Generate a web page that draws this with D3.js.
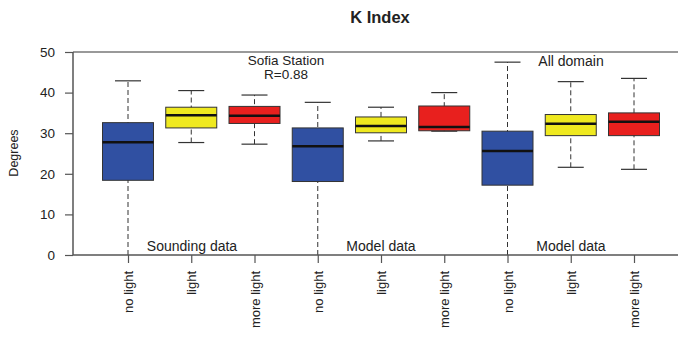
<!DOCTYPE html>
<html lang="en">
<head>
  <meta charset="UTF-8">
  <title>K Index</title>
  <script src="https://d3js.org/d3.v7.min.js"></script>
  <style>
    body { margin: 0; background: #fff; }
    text { font-family: "Liberation Sans", Arial, sans-serif; }
  </style>
</head>
<body>
  <script>
    // categories, one box per position
    const categories = ["no light", "light", "more light",
                        "no light", "light", "more light",
                        "no light", "light", "more light"];
    const boxColors = ["#3050a2", "#efe91f", "#e8201e",
                       "#3050a2", "#efe91f", "#e8201e",
                       "#3050a2", "#efe91f", "#e8201e"];
    // five number summaries
    const whiskerLow = [0, 27.7, 27.3, 0, 28.1, 30.5, 0, 21.6, 21.1];
    const q1 = [18.4, 31.3, 32.4, 18.1, 30.1, 30.6, 17.2, 29.4, 29.4];
    const medians = [27.8, 34.4, 34.3, 26.8, 31.8, 31.5, 25.6, 32.3, 32.8];
    const q3 = [32.6, 36.4, 36.6, 31.3, 34.0, 36.7, 30.5, 34.6, 35.0];
    const whiskerHigh = [42.9, 40.5, 39.4, 37.6, 36.4, 40.0, 47.5, 42.7, 43.5];
    const yTicks = [0, 10, 20, 30, 40, 50];

    const width = 678, height = 339;
    const svg = d3.select("body").append("svg")
      .attr("width", width)
      .attr("height", height);

    // scales
    const x = d3.scaleLinear().domain([0, 8]).range([128, 634]);
    const y = d3.scaleLinear().domain([0, 50]).range([255, 52]);
    const boxW = 51;

    const data = categories.map((c, i) => ({
      i: i, name: c, color: boxColors[i],
      lo: whiskerLow[i], q1: q1[i], med: medians[i], q3: q3[i], hi: whiskerHigh[i]
    }));

    // top frame line
    svg.append("line")
      .attr("x1", 73).attr("x2", width)
      .attr("y1", y(50)).attr("y2", y(50))
      .attr("stroke", "#777").attr("stroke-width", 1.5);

    const g = svg.append("g");

    // whiskers (dashed)
    g.selectAll(".whisk")
      .data(data)
      .enter().append("line")
      .attr("x1", d => x(d.i)).attr("x2", d => x(d.i))
      .attr("y1", d => y(d.lo)).attr("y2", d => y(d.hi))
      .attr("stroke", "#333").attr("stroke-width", 1)
      .attr("stroke-dasharray", "5,3");

    // caps
    g.selectAll(".capHi")
      .data(data)
      .enter().append("line")
      .attr("x1", d => x(d.i) - 13).attr("x2", d => x(d.i) + 13)
      .attr("y1", d => y(d.hi)).attr("y2", d => y(d.hi))
      .attr("stroke", "#333").attr("stroke-width", 1.2);
    g.selectAll(".capLo")
      .data(data.filter(d => d.lo > 0))
      .enter().append("line")
      .attr("x1", d => x(d.i) - 13).attr("x2", d => x(d.i) + 13)
      .attr("y1", d => y(d.lo)).attr("y2", d => y(d.lo))
      .attr("stroke", "#333").attr("stroke-width", 1.2);

    // boxes
    g.selectAll(".box")
      .data(data)
      .enter().append("rect")
      .attr("x", d => x(d.i) - boxW / 2)
      .attr("width", boxW)
      .attr("y", d => y(d.q3))
      .attr("height", d => y(d.q1) - y(d.q3))
      .attr("fill", d => d.color)
      .attr("stroke", "#333")
      .attr("stroke-width", 1);

    // medians
    g.selectAll(".med")
      .data(data)
      .enter().append("line")
      .attr("x1", d => x(d.i) - boxW / 2).attr("x2", d => x(d.i) + boxW / 2)
      .attr("y1", d => y(d.med)).attr("y2", d => y(d.med))
      .attr("stroke", "#111").attr("stroke-width", 2.5);

    // y axis
    const yAxis = svg.append("g")
      .attr("transform", "translate(73,0)")
      .call(d3.axisLeft(y).tickValues(yTicks).tickSize(8).tickPadding(10));
    yAxis.select(".domain").attr("stroke", "#555").attr("stroke-width", 1.5)
      .attr("d", "M0," + y(50) + "V" + y(0));
    yAxis.selectAll(".tick line").attr("stroke", "#555").attr("stroke-width", 1.2);
    yAxis.selectAll(".tick text").attr("font-size", 13.5).attr("fill", "#222");

    // x axis
    const xAxis = svg.append("g")
      .attr("transform", "translate(0," + y(0) + ")")
      .call(d3.axisBottom(x).tickValues(d3.range(9)).tickSize(8).tickFormat(i => categories[i]));
    xAxis.select(".domain").attr("stroke", "#555").attr("stroke-width", 1.5)
      .attr("d", "M73,0H" + width);
    xAxis.selectAll(".tick line").attr("stroke", "#555").attr("stroke-width", 1.2);
    xAxis.selectAll(".tick text")
      .attr("font-size", 13).attr("fill", "#222")
      .attr("transform", "rotate(-90)")
      .attr("text-anchor", "end")
      .attr("x", -16).attr("y", 0).attr("dy", "0.35em");

    // y label
    svg.append("text")
      .attr("transform", "translate(18,153) rotate(-90)")
      .attr("text-anchor", "middle")
      .attr("font-size", 12.5).attr("fill", "#222")
      .text("Degrees");

    // title
    svg.append("text")
      .attr("x", 380).attr("y", 23)
      .attr("text-anchor", "middle")
      .attr("font-size", 16.5).attr("font-weight", "bold").attr("fill", "#222")
      .text("K Index");

    // annotations
    const notes = [
      { t: "Sofia Station", x: 286, y: 64.5 },
      { t: "R=0.88", x: 286, y: 78.5 },
      { t: "All domain", x: 571, y: 65.5 },
      { t: "Sounding data", x: 192, y: 251 },
      { t: "Model data", x: 381, y: 251 },
      { t: "Model data", x: 571, y: 251 }
    ];
    svg.selectAll(".note")
      .data(notes)
      .enter().append("text")
      .attr("x", d => d.x).attr("y", d => d.y)
      .attr("text-anchor", "middle")
      .attr("font-size", d => d.t === "R=0.88" || d.t === "Sofia Station" ? 13.5 : 14)
      .attr("fill", "#222")
      .text(d => d.t);
  </script>
</body>
</html>
